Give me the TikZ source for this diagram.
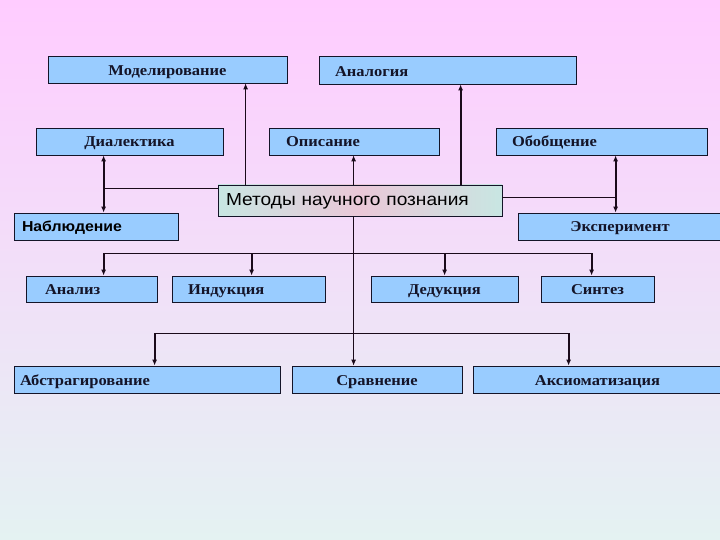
\documentclass[tikz,border=0pt]{standalone}
\usepackage{fontspec}
\setmainfont[FakeStretch=1.1]{Liberation Serif}
\setsansfont[FakeStretch=1.1]{Liberation Sans}
\usetikzlibrary{positioning, arrows.meta}
\definecolor{bgtop}{HTML}{FFCCFF}
\definecolor{bgmid}{HTML}{F0E4F4}
\definecolor{bgbottom}{HTML}{E4F2F2}
\definecolor{boxfill}{HTML}{99CCFF}
\definecolor{boxstroke}{HTML}{141428}
\definecolor{mainfill}{HTML}{C8E6E2}
\definecolor{mainpink}{HTML}{EAC8D8}
\definecolor{linkstroke}{HTML}{1A0A1A}

\begin{document}
\begin{tikzpicture}[x=1pt, y=-1pt,
          % 1. Базовая рамка
          box/.style={
              rectangle,
              draw=boxstroke,
              fill=boxfill,
              line width=0.8pt,
              minimum height=27pt,
              inner sep=0pt,
              text height=11pt,
              text depth=0pt,
              font=\fontsize{15}{17}\selectfont\bfseries,
              text=boxstroke
          },
          % 2. Рамка с текстом слева
          leftbox/.style 2 args={box, text width=#1, inner xsep=#2, align=left},
          % 3. Центральная рамка
          mainbox/.style={box, left color=mainfill, right color=mainfill, middle color=mainpink,
              minimum height=31pt, font=\sffamily\fontsize{17.4}{19}\selectfont, text=black},
          % 4. Линии и стрелки
          link/.style={draw=linkstroke, line width=0.9pt},
          boldlink/.style={draw=linkstroke, line width=1.8pt},
          tip/.style={-{Latex[length=6pt, width=5pt]}},
          tips/.style={{Latex[length=6pt, width=5pt]}-{Latex[length=6pt, width=5pt]}}
      ]

      % === ФОН ===
      \shade[top color=bgtop, middle color=bgmid, bottom color=bgbottom] (0,0) rectangle (720,540);
      \useasboundingbox (0,0) rectangle (720,540);

      % === ВЕРХНИЙ РЯД ===
      \node[box, minimum width=239pt, text height=13pt] (mod) at (167.5,69.5) {Моделирование};
      \node[leftbox={225pt}{16pt}, minimum height=28pt, text height=13pt] (ana) at (447.5,70) {Аналогия};

      % === ВТОРОЙ РЯД ===
      \node[box, minimum width=187pt] (dia) at (129.5,141.5) {Диалектика};
      \node[leftbox={136pt}{17pt}] (opi) at (354,141.5) {Описание};
      \node[leftbox={179pt}{16pt}] (obo) at (601.5,141.5) {Обобщение};

      % === ЦЕНТР ===
      \node[mainbox, text width=268pt, inner xsep=8pt, align=left] (met) at (360,200.5) {Методы научного познания};

      \node[leftbox={148pt}{8pt}, text height=9pt, font=\sffamily\fontsize{14.4}{16}\selectfont\bfseries, text=black] (nab) at (96,226.5) {Наблюдение};
      \node[box, minimum width=204pt] (eks) at (620,226.5) {Эксперимент};

      % === ТРЕТИЙ РЯД ===
      \node[leftbox={93pt}{19pt}, minimum height=26pt, text height=10pt] (anl) at (91.5,289) {Анализ};
      \node[leftbox={121pt}{16pt}, minimum height=26pt, text height=10pt] (ind) at (248.5,289) {Индукция};
      \node[box, minimum width=147pt, minimum height=26pt, text height=10pt] (ded) at (444.5,289) {Дедукция};
      \node[box, minimum width=113pt, minimum height=26pt, text height=10pt] (sin) at (597.5,289) {Синтез};

      % === НИЖНИЙ РЯД ===
      \node[leftbox={254pt}{6pt}] (abs) at (147,379.5) {Абстрагирование};
      \node[box, minimum width=170pt] (srv) at (377,379.5) {Сравнение};
      \node[box, minimum width=249pt] (aks) at (597.5,379.5) {Аксиоматизация};

      % === СВЯЗИ ВВЕРХ ===
      \coordinate (tm) at ([xshift=28pt]met.north west);
      \coordinate (to) at ([xshift=136pt]met.north west);
      \coordinate (ta) at ([xshift=243pt]met.north west);
      \draw[link, tip] (tm) -- (tm |- mod.south);
      \draw[link, tip] (to) -- (to |- opi.south);
      \draw[boldlink, tip] (ta) -- (ta |- ana.south);

      % Диалектика - Наблюдение
      \coordinate (dl) at ([xshift=68pt]dia.south west);
      \coordinate (ml) at ([yshift=-4pt]met.north west);
      \draw[boldlink, tips] (dl) -- (dl |- nab.north);
      \draw[link] (ml) -- (ml -| dl);

      % Обобщение - Эксперимент
      \coordinate (dr) at ([xshift=120pt]obo.south west);
      \coordinate (mr) at ([yshift=3.5pt]met.east);
      \draw[boldlink, tips] (dr) -- (dr |- eks.north);
      \draw[link] (mr) -- (mr -| dr);

      % === СВЯЗИ ВНИЗ ===
      \coordinate (sp) at ([xshift=136pt]met.south west);
      \coordinate (b1) at ([yshift=-37pt]sp);
      \coordinate (b2) at ([yshift=-117pt]sp);
      \draw[link, tip] (sp) -- (sp |- srv.north);

      \foreach \n/\d in {anl/78, ind/80, ded/74, sin/51}
          {\coordinate (\n t) at ([xshift=\d pt]\n.north west);
           \draw[boldlink, tip] (\n t |- b1) -- (\n t);}
      \draw[link] (anlt |- b1) -- (sint |- b1);

      \foreach \n/\d in {abs/141, aks/96}
          {\coordinate (\n t) at ([xshift=\d pt]\n.north west);
           \draw[boldlink, tip] (\n t |- b2) -- (\n t);}
      \draw[link] (abst |- b2) -- (akst |- b2);

      \end{tikzpicture}
\end{document}
